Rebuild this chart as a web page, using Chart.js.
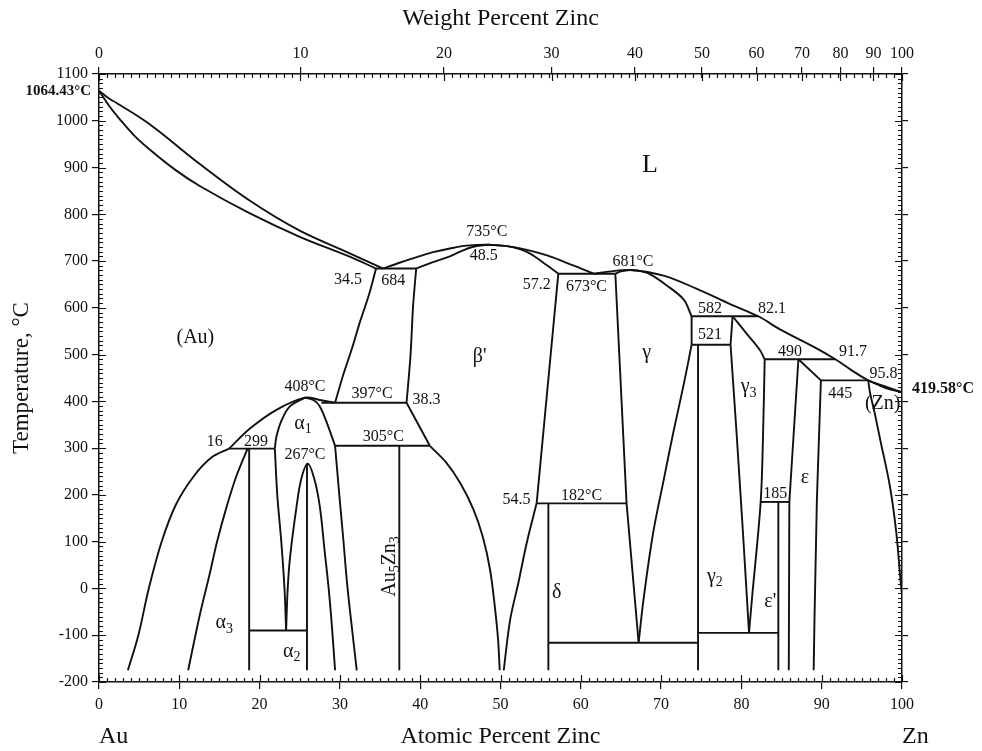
<!DOCTYPE html>
<html>
<head>
<meta charset="utf-8">
<script src="https://cdn.jsdelivr.net/npm/chart.js@4.4.1/dist/chart.umd.min.js"></script>
<style>
  html, body { margin: 0; padding: 0; background: #fff; }
  #wrap { width: 982px; height: 751px; }
</style>
</head>
<body>
<div id="wrap"><canvas id="phase"></canvas></div>
<script>
// axes
var X_MIN = 0, X_MAX = 100;
var T_MIN = -200, T_MAX = 1100;
var WT_TICKS = [0, 10, 20, 30, 40, 50, 60, 70, 80, 90, 100];
var M_ZN = 65.38, M_AU = 196.97;

// phase boundaries, [at% Zn, T in C]
var liquidusAu = [[0,1064.43],[1.2,1048],[2.2,1038],[6.35,992],[12.6,907],[18.8,829],[25,765],[31.3,716],[35.4,684]];
var solidusAu = [[0,1064.43],[1.3,1031],[2.6,1003],[4.3,970],[6.35,938],[9.5,895],[12.6,860],[18.8,802],[25,752],[31.3,709],[34.5,684]];
var liquidusBeta = [[35.4,684],[37.5,697],[39.5,708],[41.6,719],[43.7,727],[45.8,733],[48.5,735],[50.8,732],[53.3,724],[55.8,712],[58,698],[59.9,685],[61.6,673]];
var solidusBetaL = [[39.5,684],[41.5,697],[43.7,710],[45.2,722],[46.5,730],[48.5,735]];
var solidusBetaR = [[48.5,735],[50.8,732],[52.5,725],[53.7,716],[55.3,697],[57.2,673]];
var liquidusGamma = [[61.6,673],[63.5,677.5],[66.1,681],[70.3,669],[74.4,641],[78.6,608],[82.1,582],[84.8,554],[88.96,517],[91.7,490],[93.6,468],[95.8,445],[97.9,432],[100,419.58]];
var solidusGamma = [[64.3,673],[65,678],[66.1,681],[67.3,679],[68.6,672],[70.7,648],[72.8,618],[73.8,582]];
var solidusZn = [[95.8,445],[97.9,429],[100,419.58]];
var solvusZn = [[95.8,445],[96.0,420],[96.6,375],[97.3,317],[98.5,218],[99.3,118],[99.8,20],[100,-15]];
var solvusAu = [[16.2,299],[14.0,280],[11.8,240],[9.6,180],[7.8,100],[6.2,0],[4.9,-100],[3.6,-175]];
var alpha3Left = [[18.5,299],[17.1,240],[15.9,175],[14.7,100],[13.8,32],[12.6,-53],[11.1,-175]];
var domeOuter = [[16.2,299],[18.8,342],[22.1,382],[25.65,408],[27.5,403],[29.3,397]];
var domeInner = [[21.9,299],[22.1,325],[22.75,360],[23.8,390],[25.65,408]];
var alpha1Right = [[25.65,408],[26.8,402],[27.5,389],[28.4,353],[29.4,305]];
var alpha1RightLow = [[29.4,305],[29.9,205],[30.4,110],[30.9,10],[31.5,-85],[32.1,-175]];
var alpha1LeftLow = [[21.9,299],[22.2,200],[22.7,100],[23.1,0],[23.3,-90]];
var alpha2Dome = [[23.3,-90],[23.5,0],[23.8,68],[24.6,175],[25.2,235],[26,267],[26.8,235],[27.5,175],[28.1,80],[28.6,0],[29.0,-80],[29.4,-175]];
var betaUpperL = [[34.5,684],[33.6,627],[32.5,570],[31.5,513],[30.4,456],[29.4,397]];
var betaUpperR = [[39.5,684],[39.1,600],[38.8,500],[38.3,397]];
var betaLowerR = [[41.2,305],[43.2,270],[45.0,225],[46.6,170],[47.8,110],[48.7,40],[49.3,-40],[49.7,-110],[49.9,-175]];
var deltaLowL = [[54.5,182],[53.3,100],[52.2,10],[51.2,-67],[50.4,-175]];
var gammaRight = [[73.8,521],[73.1,460],[72.4,403],[71.5,332],[70.3,230],[69.0,118],[67.8,-25],[67.2,-116]];
var gamma3Top = [[78.9,582],[80.65,545],[82.3,510],[82.9,490]];
var gamma3Right = [[82.9,490],[82.7,332],[82.4,185],[81.3,-25],[80.95,-95]];

// straight boundaries and invariant lines
var line684 = [[34.5,684],[39.5,684]];
var line673 = [[57.2,673],[64.3,673]];
var line582 = [[73.8,582],[82.1,582]];
var line521 = [[73.8,521],[78.65,521]];
var box521L = [[73.8,582],[73.8,521]];
var box521R = [[78.9,582],[78.65,521]];
var line490 = [[82.9,490],[91.7,490]];
var line445 = [[89.9,445],[95.8,445]];
var line397 = [[27.7,397],[38.3,397]];
var slant397 = [[38.3,397],[41.2,305]];
var line305 = [[29.4,305],[41.2,305]];
var line299 = [[16.2,299],[21.9,299]];
var line182 = [[54.5,182],[65.7,182]];
var line185 = [[82.4,185],[85.97,185]];
var lineM90 = [[18.7,-90],[25.9,-90]];
var lineM116 = [[55.96,-116],[74.6,-116]];
var lineM95 = [[74.6,-95],[84.6,-95]];
var alpha3Vert = [[18.7,299],[18.7,-175]];
var alpha2Vert = [[25.9,267],[25.9,-175]];
var au5zn3Vert = [[37.4,305],[37.4,-175]];
var deltaVert = [[55.96,182],[55.96,-175]];
var gamma2Vert = [[74.6,521],[74.6,-175]];
var epsPrVert = [[84.6,185],[84.6,-175]];
var betaDelta = [[57.2,673],[54.5,182]];
var gammaLeft = [[64.3,673],[65.7,182],[67.2,-116]];
var gamma2Right = [[78.65,521],[79.4,332],[80.2,118],[80.95,-95]];
var epsLeft = [[87.1,490],[85.97,185],[85.9,-175]];
var epsTop = [[87.1,490],[89.9,445]];
var epsRight = [[89.9,445],[89.4,189],[89.1,-67],[89.0,-175]];

var CURVED = [liquidusAu, solidusAu, liquidusBeta, solidusBetaL, solidusBetaR, liquidusGamma,
  solidusGamma, solidusZn, solvusZn, solvusAu, alpha3Left, domeOuter, domeInner, alpha1Right,
  alpha1RightLow, alpha1LeftLow, alpha2Dome, betaUpperL, betaUpperR, betaLowerR, deltaLowL,
  gammaRight, gamma3Top, gamma3Right];
var STRAIGHT = [line684, line673, line582, line521, box521L, box521R, line490, line445, line397,
  slant397, line305, line299, line182, line185, lineM90, lineM116, lineM95, alpha3Vert, alpha2Vert,
  au5zn3Vert, deltaVert, gamma2Vert, epsPrVert, betaDelta, gammaLeft, gamma2Right, epsLeft, epsTop, epsRight];

// labels: [text, subscript, at%, T]
var PHASE_LABELS = [
  ['(Au)', '', 12.0, 535], ["\u03b2'", '', 47.4, 495], ['\u03b3', '', 68.2, 503],
  ['\u03b3', '3', 80.9, 431], ['\u03b5', '', 87.9, 236], ['\u03b4', '', 57.0, -10],
  ['\u03b3', '2', 76.7, 25], ["\u03b5'", '', 83.6, -28], ['\u03b1', '1', 25.4, 353],
  ['\u03b1', '3', 15.6, -74], ['\u03b1', '2', 24.0, -135], ['(Zn)', '', 97.6, 394]
];
var BIG_LABELS = [['L', 68.6, 905]];
var NOTE_LABELS = [
  ['735\u00b0C', 48.3, 763], ['48.5', 47.9, 712], ['34.5', 31.0, 660], ['684', 36.65, 658],
  ['57.2', 54.5, 649], ['673\u00b0C', 60.7, 645], ['681\u00b0C', 66.5, 699], ['582', 76.1, 599],
  ['82.1', 83.8, 597], ['521', 76.1, 542], ['490', 86.05, 506], ['91.7', 93.9, 506],
  ['95.8', 97.7, 460], ['445', 92.3, 417], ['185', 84.2, 203], ['54.5', 52.0, 189],
  ['182\u00b0C', 60.1, 198], ['408\u00b0C', 25.65, 431], ['397\u00b0C', 34.0, 417],
  ['38.3', 40.8, 403], ['16', 14.4, 314], ['299', 19.55, 314], ['305\u00b0C', 35.4, 325],
  ['267\u00b0C', 25.65, 285]
];
var COMPOUND_LABEL = [['Au', ''], ['', '5'], ['Zn', ''], ['', '3']];
var COMPOUND_AT = [36.2, 47];
var MELT_AU = 1064.43, MELT_ZN = 419.58;

var SERIF = '"Liberation Serif", "Times New Roman", serif';

function wtToAt(w) {
  var zn = w / M_ZN, au = (100 - w) / M_AU;
  return 100 * zn / (zn + au);
}

function toPts(arr) { return arr.map(function (p) { return { x: p[0], y: p[1] }; }); }

var datasets = [];
CURVED.forEach(function (c) {
  datasets.push({ data: toPts(c), showLine: true, tension: 0.35, borderColor: '#111', borderWidth: 1.9, pointRadius: 0 });
});
STRAIGHT.forEach(function (c) {
  datasets.push({ data: toPts(c), showLine: true, tension: 0, borderColor: '#111', borderWidth: 1.9, pointRadius: 0 });
});

function richText(ctx, parts, size) {
  ctx.textAlign = 'left';
  var w = 0;
  parts.forEach(function (p) {
    ctx.font = size + 'px ' + SERIF; w += ctx.measureText(p[0]).width;
    ctx.font = Math.round(size * 0.7) + 'px ' + SERIF; w += ctx.measureText(p[1]).width;
  });
  var x = -w / 2;
  parts.forEach(function (p) {
    ctx.font = size + 'px ' + SERIF;
    ctx.fillText(p[0], x, 0); x += ctx.measureText(p[0]).width;
    ctx.font = Math.round(size * 0.7) + 'px ' + SERIF;
    ctx.fillText(p[1], x, size * 0.3); x += ctx.measureText(p[1]).width;
  });
}

var decor = {
  id: 'decor',
  afterDraw: function (chart) {
    var ctx = chart.ctx, xs = chart.scales.x, ys = chart.scales.y;
    var a = chart.chartArea;
    ctx.save();
    ctx.strokeStyle = '#111'; ctx.lineWidth = 1.2;
    ctx.beginPath();
    for (var t = T_MIN; t <= T_MAX; t += 10) {
      var py = Math.round(ys.getPixelForValue(t)) + 0.5;
      var len = (t % 100 === 0) ? 7 : 4;
      ctx.moveTo(a.left, py); ctx.lineTo(a.left + len, py);
      ctx.moveTo(a.right, py); ctx.lineTo(a.right - len, py);
    }
    for (var x = X_MIN; x <= X_MAX; x += 1) {
      var px = Math.round(xs.getPixelForValue(x)) + 0.5;
      var l2 = (x % 10 === 0) ? 7 : 4;
      ctx.moveTo(px, a.bottom); ctx.lineTo(px, a.bottom - l2);
      ctx.moveTo(px, a.top); ctx.lineTo(px, a.top + 4);
    }
    WT_TICKS.forEach(function (w) {
      var px = Math.round(xs.getPixelForValue(wtToAt(w))) + 0.5;
      ctx.moveTo(px, a.top); ctx.lineTo(px, a.top + 7);
    });
    ctx.stroke();

    ctx.fillStyle = '#111';
    ctx.textBaseline = 'middle';
    PHASE_LABELS.forEach(function (l) {
      ctx.save();
      ctx.translate(xs.getPixelForValue(l[2]), ys.getPixelForValue(l[3]));
      richText(ctx, [[l[0], l[1]]], 20);
      ctx.restore();
    });
    ctx.textAlign = 'center';
    BIG_LABELS.forEach(function (l) {
      ctx.font = '26px ' + SERIF;
      ctx.fillText(l[0], xs.getPixelForValue(l[1]), ys.getPixelForValue(l[2]));
    });
    ctx.font = '16px ' + SERIF;
    NOTE_LABELS.forEach(function (l) {
      ctx.fillText(l[0], xs.getPixelForValue(l[1]), ys.getPixelForValue(l[2]));
    });
    ctx.save();
    ctx.translate(xs.getPixelForValue(COMPOUND_AT[0]), ys.getPixelForValue(COMPOUND_AT[1]));
    ctx.rotate(-Math.PI / 2);
    richText(ctx, COMPOUND_LABEL, 20);
    ctx.restore();

    ctx.font = 'bold 15px ' + SERIF;
    ctx.textAlign = 'right';
    ctx.fillText(MELT_AU.toFixed(2) + '\u00b0C', a.left - 8, ys.getPixelForValue(MELT_AU));
    ctx.font = 'bold 16px ' + SERIF;
    ctx.textAlign = 'left';
    ctx.fillText(MELT_ZN.toFixed(2) + '\u00b0C', a.right + 10, ys.getPixelForValue(MELT_ZN) - 3);

    ctx.font = '24px ' + SERIF;
    ctx.fillText('Au', xs.getPixelForValue(X_MIN), 737);
    ctx.fillText('Zn', xs.getPixelForValue(X_MAX), 737);
    ctx.restore();
  }
};

var tickFont = { family: SERIF, size: 16 };
var axisLine = { color: '#111', width: 1.5 };
var plainTick = function (v) { return String(v); };

new Chart(document.getElementById('phase').getContext('2d'), {
  type: 'scatter',
  data: { datasets: datasets },
  options: {
    responsive: true,
    maintainAspectRatio: false,
    animation: false,
    layout: { padding: 0 },
    plugins: { legend: { display: false }, tooltip: { enabled: false } },
    scales: {
      x: {
        type: 'linear', position: 'bottom', min: X_MIN, max: X_MAX,
        ticks: { stepSize: 10, font: tickFont, color: '#111', padding: 6, maxRotation: 0, callback: plainTick },
        grid: { drawOnChartArea: false, tickLength: 7, color: '#111', lineWidth: 1.2 },
        border: axisLine,
        title: { display: true, text: 'Atomic Percent Zinc', font: { family: SERIF, size: 24 }, color: '#111', padding: { top: 0, bottom: 0 } },
        afterFit: function (s) { s.height = 69; }
      },
      x2: {
        type: 'linear', position: 'top', min: X_MIN, max: X_MAX,
        afterBuildTicks: function (s) { s.ticks = WT_TICKS.map(function (w) { return { value: wtToAt(w) }; }); },
        ticks: { autoSkip: false, maxRotation: 0, font: tickFont, color: '#111', padding: 4,
          callback: function (v, i) { return String(WT_TICKS[i]); } },
        grid: { drawOnChartArea: false, tickLength: 7, color: '#111', lineWidth: 1.2 },
        border: axisLine,
        title: { display: true, text: 'Weight Percent Zinc', font: { family: SERIF, size: 24 }, color: '#111', padding: { top: 4, bottom: 0 } },
        afterFit: function (s) { s.height = 74; }
      },
      y: {
        type: 'linear', position: 'left', min: T_MIN, max: T_MAX,
        ticks: { stepSize: 100, font: tickFont, color: '#111', padding: 4, callback: plainTick },
        grid: { drawOnChartArea: false, tickLength: 7, color: '#111', lineWidth: 1.2 },
        border: axisLine,
        title: { display: true, text: 'Temperature, \u00b0C', font: { family: SERIF, size: 23 }, color: '#111', padding: { top: 8, bottom: 0 } },
        afterFit: function (s) { s.width = 99; }
      },
      yR: {
        type: 'linear', position: 'right', min: T_MIN, max: T_MAX,
        ticks: { stepSize: 100, display: false },
        grid: { drawOnChartArea: false, tickLength: 6, color: '#111', lineWidth: 1.2 },
        border: axisLine,
        afterFit: function (s) { s.width = 80; }
      }
    }
  },
  plugins: [decor]
});
</script>
</body>
</html>
